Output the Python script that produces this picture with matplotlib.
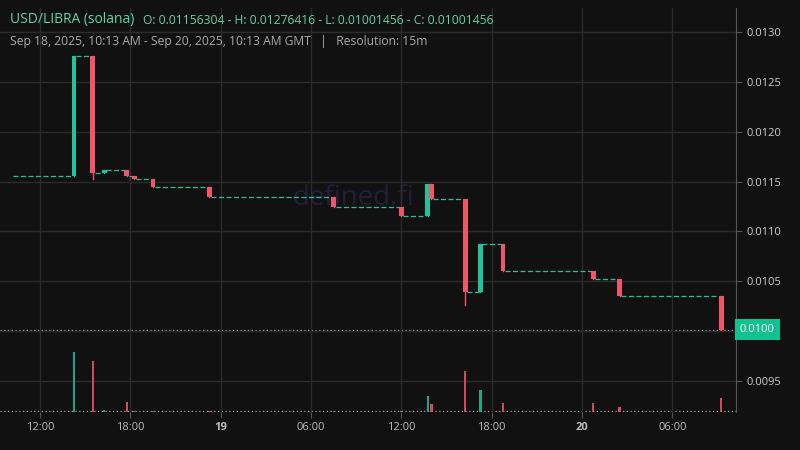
import matplotlib
matplotlib.use("Agg")
import matplotlib.pyplot as plt
import pandas as pd
import numpy as np

plt.rcParams["font.family"] = "Open Sans"

start = pd.Timestamp("2025-09-18 09:20")
end = pd.Timestamp("2025-09-20 10:14")
data_start = pd.Timestamp("2025-09-18 10:13")
initial_price = 0.01156
# significant 15m candles: time, open, high, low, close, volume
times = ["2025-09-18 14:15", "2025-09-18 15:30", "2025-09-18 16:15", "2025-09-18 17:45",
         "2025-09-18 18:15", "2025-09-18 19:30", "2025-09-18 23:15", "2025-09-19 07:30",
         "2025-09-19 12:00", "2025-09-19 13:45", "2025-09-19 14:00", "2025-09-19 16:15",
         "2025-09-19 17:15", "2025-09-19 18:45", "2025-09-20 00:45", "2025-09-20 02:30",
         "2025-09-20 09:15"]
opens = [0.01156, 0.01276, 0.01159, 0.01162, 0.01156, 0.01153, 0.01145, 0.01135,
         0.01125, 0.01116, 0.01148, 0.01133, 0.01039, 0.01087, 0.01060, 0.01052, 0.01035]
highs = [0.01276, 0.01276, 0.01162, 0.01162, 0.01156, 0.01153, 0.01145, 0.01135,
         0.01125, 0.01148, 0.01148, 0.01133, 0.01087, 0.01087, 0.01060, 0.01052, 0.01035]
lows = [0.01156, 0.01153, 0.01159, 0.01156, 0.01153, 0.01145, 0.01135, 0.01125,
        0.01116, 0.01116, 0.01133, 0.01026, 0.01039, 0.01060, 0.01052, 0.01035, 0.01001]
closes = [0.01276, 0.01159, 0.01162, 0.01156, 0.01153, 0.01145, 0.01135, 0.01125,
          0.01116, 0.01148, 0.01133, 0.01039, 0.01087, 0.01060, 0.01052, 0.01035, 0.01001]
volumes = [60, 51, 2, 10, 1, 1, 1, 1, 1, 16, 8, 41, 22, 9, 9, 5, 14]
last_price = 0.01001456

UP = "#22c39a"
DOWN = "#f0566a"
BG = "#111111"
GRID = "#2b2b2b"

fig = plt.figure(figsize=(8, 4.5), dpi=100, facecolor=BG)
ax = fig.add_axes([0, 1 - 412 / 450, 736 / 800, (412 - 8) / 450])
ax.set_facecolor(BG)
vax = ax.twinx()
vax.set_ylim(0, 404)
vax.axis("off")

t = pd.to_datetime(times)
w = pd.Timedelta(minutes=15)
wd = 15 / 1440
prev_end = data_start
prev_price = initial_price
for i in range(len(t)):
    ax.plot([prev_end, t[i] - w / 2], [prev_price, prev_price], color=UP, lw=0.9,
            dashes=(4, 2), zorder=2)
    c = UP if closes[i] >= opens[i] else DOWN
    ax.plot([t[i], t[i]], [lows[i], highs[i]], color=c, lw=1, zorder=3)
    ax.bar(t[i], closes[i] - opens[i], bottom=opens[i], width=wd * 1.3, color=c, zorder=3)
    vax.bar(t[i], volumes[i], width=wd * 0.6, color=c, alpha=0.85)
    prev_end = t[i] + w / 2
    prev_price = closes[i]

ax.set_xlim(start, end)
ax.set_ylim(0.009186, 0.013246)
ax.axhline(last_price, color="#aaaaaa", lw=0.9, ls=(0, (1, 2)), zorder=1)
ax.axhline(0.009195, color="#aaaaaa", lw=0.9, ls=(0, (1, 2)), zorder=1)

ax.yaxis.tick_right()
yt = np.arange(0.0095, 0.01301, 0.0005)
ax.set_yticks(yt)
ax.set_yticklabels(["" if abs(v - 0.0100) < 1e-9 else f"{v:.4f}" for v in yt])
xt = pd.date_range("2025-09-18 12:00", "2025-09-20 06:00", freq="6h")
ax.set_xticks(xt)
ax.set_xticklabels([str(d.day) if d.hour == 0 else d.strftime("%H:%M") for d in xt])
for lab, d in zip(ax.get_xticklabels(), xt):
    if d.hour == 0:
        lab.set_fontweight("bold")
ax.tick_params(colors="#cccccc", labelsize=8, length=4, color="#555555")
ax.tick_params(axis="x", labelcolor="#bbbbbb")
ax.grid(True, color=GRID, lw=1)
for s in ["top", "left", "bottom"]:
    ax.spines[s].set_visible(False)
ax.spines["right"].set_color("#555555")

ax.text(1.005, last_price, "0.0100", transform=ax.get_yaxis_transform(), va="center",
        ha="left", fontsize=8, color="white",
        bbox=dict(boxstyle="square,pad=0.45", fc="#13c08f", ec="none"), zorder=10, clip_on=False)

ax.text(0.48, 0.53, "defined.fi", transform=ax.transAxes, ha="center", va="center",
        fontsize=20, color="#231f3a", zorder=1)

fig.text(10 / 800, 1 - 20 / 450, "USD/LIBRA (solana)", color="#5fd3a8", fontsize=10, va="center")
fig.text(143 / 800, 1 - 20 / 450, "O: 0.01156304 - H: 0.01276416 - L: 0.01001456 - C: 0.01001456",
         color="#5fd3a8", fontsize=8.75, va="center")
fig.text(10 / 800, 1 - 41 / 450,
         "Sep 18, 2025, 10:13 AM - Sep 20, 2025, 10:13 AM GMT   |   Resolution: 15m",
         color="#aaaaaa", fontsize=8.75, va="center")

fig.savefig("out.png", dpi=100, facecolor=BG)
